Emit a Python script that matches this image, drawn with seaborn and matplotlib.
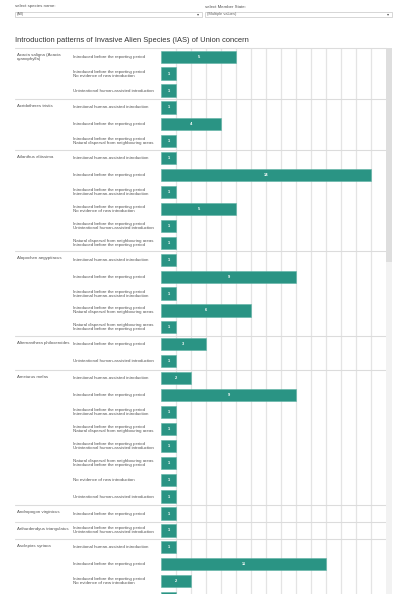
import matplotlib
matplotlib.use("Agg")
import matplotlib.pyplot as plt
import matplotlib.transforms as mtransforms
from matplotlib.patches import Rectangle
import pandas as pd
import seaborn as sns

IBP = "Introduced before the reporting period"
IHA = "Intentional human-assisted introduction"
UHA = "Unintentional human-assisted introduction"
NAT = "Natural dispersal from neighbouring areas"
NOE = "No evidence of new introduction"

species = [
    "Acacia saligna (Acacia\ncyanophylla)",
    "Acridotheres tristis",
    "Ailanthus altissima",
    "Alopochen aegyptiacus",
    "Alternanthera philoxeroides",
    "Ameiurus melas",
    "Andropogon virginicus",
    "Arthurdendyus triangulatus",
    "Asclepias syriaca",
]
patterns = [
    [IBP, IBP + "\n" + NOE, UHA],
    [IHA, IBP, IBP + "\n" + NAT],
    [IHA, IBP, IBP + "\n" + IHA, IBP + "\n" + NOE, IBP + "\n" + UHA, NAT + "\n" + IBP],
    [IHA, IBP, IBP + "\n" + IHA, IBP + "\n" + NAT, NAT + "\n" + IBP],
    [IBP, UHA],
    [IHA, IBP, IBP + "\n" + IHA, IBP + "\n" + NAT, IBP + "\n" + UHA, NAT + "\n" + IBP, NOE, UHA],
    [IBP],
    [IBP + "\n" + UHA],
    [IHA, IBP, IBP + "\n" + NOE, IBP + "\n" + UHA],
]
counts = [
    [5, 1, 1],
    [1, 4, 1],
    [1, 14, 1, 5, 1, 1],
    [1, 9, 1, 6, 1],
    [3, 1],
    [2, 9, 1, 1, 1, 1, 1, 1],
    [1],
    [1],
    [1, 11, 2, 1],
]

rows = []
for sp, pats, cnts in zip(species, patterns, counts):
    for p, c in zip(pats, cnts):
        rows.append({"species": sp, "pattern": p, "count": c})
df = pd.DataFrame(rows)
df["row"] = range(len(df))

sns.set_theme(style="white")
plt.rcParams["font.family"] = ["Liberation Sans", "DejaVu Sans"]

W, H = 400, 594
teal = "#2a9484"
txt = "#555555"
top_px = 48.2
pitch = 16.92
lab_fs = 3.2

fig = plt.figure(figsize=(4.0, 5.94), dpi=100)
fig.patch.set_facecolor("white")

ax = fig.add_axes([161 / W, 0, (386 - 161) / W, (H - top_px) / H])
sns.barplot(data=df, x="count", y="row", orient="h", color=teal, saturation=1,
            width=0.72, edgecolor="#5fb3a6", linewidth=0.4, ax=ax)
ax.set_xlim(0, 15)
ax.set_ylim(-0.5 + (H - top_px) / pitch, -0.5)
ax.set_xticks(range(1, 15))
ax.grid(axis="x", color="#e4e4e4", lw=0.9)
ax.grid(axis="y", visible=False)
ax.set_axisbelow(True)
ax.tick_params(left=False, bottom=False, labelleft=False, labelbottom=False)
ax.set_xlabel("")
ax.set_ylabel("")
for s in ax.spines.values():
    s.set_visible(False)

# value labels
for _, r in df.iterrows():
    ax.text(r["count"] / 2, r["row"], str(r["count"]), ha="center", va="center",
            color="white", fontsize=2.9, fontweight="bold")

# row and species labels
tr = mtransforms.blended_transform_factory(fig.transFigure, ax.transData)
start = 0
for sp, pats in zip(species, patterns):
    ax.text(17 / W, start - 0.19, sp, transform=tr, ha="left", va="top",
            fontsize=lab_fs, color=txt, linespacing=1.0, clip_on=False)
    for i, p in enumerate(pats):
        ax.text(73 / W, start + i, p, transform=tr, ha="left", va="center",
                fontsize=lab_fs, color=txt, linespacing=1.0, clip_on=False)
    ax.plot([15 / W, 386 / W], [start - 0.5, start - 0.5], transform=tr,
            color="#dcdcdc", lw=0.8, clip_on=False)
    start += len(pats)

# scrollbar
fig.patches.append(Rectangle((386 / W, 0), 6 / W, (H - top_px) / H,
                             transform=fig.transFigure, facecolor="#f2f2f2", edgecolor="none"))
fig.patches.append(Rectangle((386 / W, (H - 262) / H), 6 / W, (262 - top_px) / H,
                             transform=fig.transFigure, facecolor="#dedede", edgecolor="none"))

# header controls
fig.text(15 / W, 1 - 6.5 / H, "select species name:", fontsize=3.2, color=txt, va="center")
fig.text(205 / W, 1 - 6.5 / H, "select Member State:", fontsize=3.2, color=txt, va="center")
for x0, x1, label in [(15, 202, "(All)"), (205, 392, "(Multiple values)")]:
    fig.patches.append(Rectangle((x0 / W, 1 - 17 / H), (x1 - x0) / W, 5.3 / H,
                                 transform=fig.transFigure, facecolor="white",
                                 edgecolor="#c6c6c6", lw=0.5))
    fig.text((x0 + 2) / W, 1 - 14.4 / H, label, fontsize=2.9, color="#666666", va="center")
    fig.text((x1 - 4) / W, 1 - 14.4 / H, "\u25be", fontsize=3, color="#555555",
             va="center", ha="center", family="DejaVu Sans")

fig.text(15 / W, 1 - 41 / H, "Introduction patterns of Invasive Alien Species (IAS) of Union concern",
         fontsize=5.4, color="#333333", va="center")

fig.savefig("out.png", dpi=100, facecolor="white")
